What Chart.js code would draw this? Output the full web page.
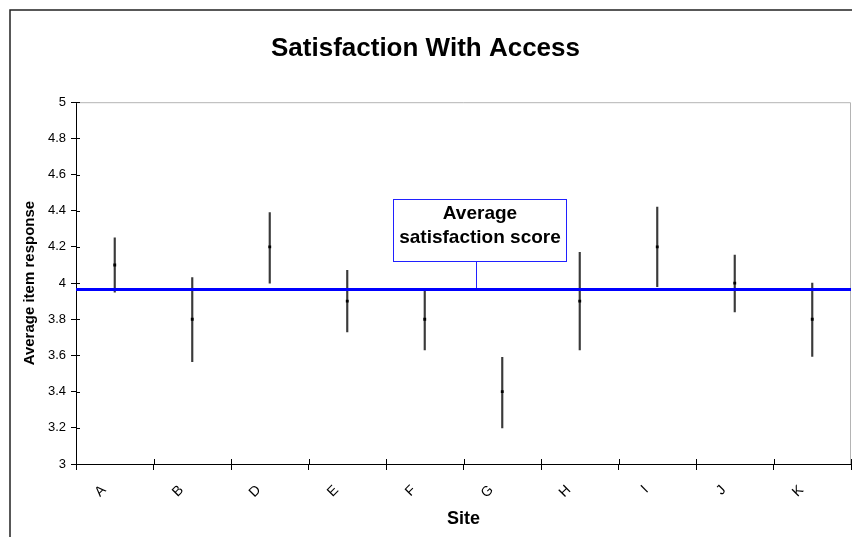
<!DOCTYPE html>
<html><head><meta charset="utf-8">
<script src="https://cdn.jsdelivr.net/npm/chart.js@4/dist/chart.umd.min.js"></script>
<style>html,body{margin:0;padding:0;background:#fff;}canvas{display:block;}</style>
</head><body>
<canvas id="c" width="852" height="537"></canvas>
<script>
const sites = ['A','B','D','E','F','G','H','I','J','K'];
const meanScores  = [4.10, 3.80, 4.20, 3.90, 3.80, 3.40, 3.90, 4.20, 4.00, 3.80];
const lowerBounds = [3.95, 3.565, 4.00, 3.73, 3.63, 3.20, 3.63, 3.98, 3.84, 3.595];
const upperBounds = [4.25, 4.03, 4.39, 4.07, 3.955, 3.59, 4.17, 4.42, 4.155, 4.00];
const overallAverage = 3.964;
const yTickLabels = ['3','3.2','3.4','3.6','3.8','4','4.2','4.4','4.6','4.8','5'];
const calloutLines = ['Average','satisfaction score'];

const FONT = 'Arial, "Liberation Sans", sans-serif';

const decorPlugin = {
  id: 'decor',
  beforeDraw(chart) {
    const ctx = chart.ctx;
    ctx.save();
    ctx.fillStyle = '#fff';
    ctx.fillRect(0, 0, chart.width, chart.height);
    ctx.strokeStyle = '#222';
    ctx.lineWidth = 1.5;
    ctx.beginPath();
    ctx.moveTo(10, chart.height + 2);
    ctx.lineTo(10, 10);
    ctx.lineTo(chart.width + 2, 10);
    ctx.stroke();
    ctx.restore();
  },
  beforeDatasetsDraw(chart) {
    const ctx = chart.ctx, a = chart.chartArea;
    ctx.save();
    ctx.strokeStyle = '#b4b4b4';
    ctx.lineWidth = 1;
    ctx.beginPath();
    ctx.moveTo(a.left, a.top + 0.5);
    ctx.lineTo(a.right - 0.5, a.top + 0.5);
    ctx.lineTo(a.right - 0.5, a.bottom);
    ctx.stroke();
    const xs = chart.scales.x, ys = chart.scales.y;
    ctx.strokeStyle = '#000';
    ctx.beginPath();
    ys.ticks.forEach(t => {
      const y = Math.round(ys.getPixelForValue(t.value)) + 0.5;
      ctx.moveTo(a.left, y); ctx.lineTo(a.left + 4, y);
    });
    const cw = xs.width / sites.length;
    for (let i = 0; i <= sites.length; i++) {
      const x = Math.round(xs.getPixelForValue(0) - cw / 2 + i * cw) + 0.5;
      ctx.moveTo(x, a.bottom); ctx.lineTo(x, a.bottom - 5);
    }
    ctx.stroke();
    ctx.restore();
  },
  afterDatasetsDraw(chart) {
    const ctx = chart.ctx, a = chart.chartArea;
    const ys = chart.scales.y;
    const yAvg = ys.getPixelForValue(overallAverage);
    ctx.save();
    ctx.strokeStyle = '#2020ff';
    ctx.lineWidth = 1;
    ctx.beginPath();
    ctx.moveTo(476.5, 262);
    ctx.lineTo(476.5, yAvg);
    ctx.stroke();
    ctx.strokeStyle = '#0000ff';
    ctx.lineWidth = 3;
    ctx.beginPath();
    ctx.moveTo(a.left, yAvg);
    ctx.lineTo(a.right, yAvg);
    ctx.stroke();
    ctx.fillStyle = '#fff';
    ctx.fillRect(393.5, 199.5, 173, 62);
    ctx.strokeStyle = '#2020ff';
    ctx.lineWidth = 1;
    ctx.strokeRect(393.5, 199.5, 173, 62);
    ctx.fillStyle = '#000';
    ctx.font = 'bold 19px ' + FONT;
    ctx.textAlign = 'center';
    ctx.textBaseline = 'alphabetic';
    ctx.fillText(calloutLines[0], 480, 219);
    ctx.fillText(calloutLines[1], 480, 243);
    ctx.restore();
  }
};

new Chart(document.getElementById('c'), {
  type: 'bar',
  data: {
    labels: sites,
    datasets: [
      {
        type: 'line',
        label: 'Mean',
        data: meanScores,
        showLine: false,
        pointStyle: 'rect',
        pointRadius: 2,
        pointBackgroundColor: '#000',
        pointBorderColor: '#000',
        pointBorderWidth: 0,
        order: 0
      },
      {
        type: 'bar',
        label: 'Range',
        data: sites.map((s, i) => [lowerBounds[i], upperBounds[i]]),
        backgroundColor: '#3a3a3a',
        borderWidth: 0,
        barThickness: 1.5,
        order: 1
      }
    ]
  },
  options: {
    responsive: false,
    animation: false,
    devicePixelRatio: 1,
    layout: { autoPadding: false, padding: { left: 0, right: 1, top: 0, bottom: 0 } },
    plugins: {
      legend: { display: false },
      tooltip: { enabled: false },
      title: {
        display: true,
        text: 'Satisfaction With Access',
        color: '#000',
        font: { family: FONT, size: 26, weight: 'bold' },
        padding: { top: 33, bottom: 38 }
      }
    },
    scales: {
      x: {
        type: 'category',
        offset: true,
        grid: { display: true, drawOnChartArea: false, offset: true, tickLength: 6, color: '#000', lineWidth: 1 },
        border: { color: '#000', width: 1 },
        ticks: {
          color: '#000',
          font: { family: FONT, size: 14 },
          minRotation: 45,
          maxRotation: 45,
          labelOffset: -11,
          padding: 12
        },
        title: {
          display: true,
          text: 'Site',
          color: '#000',
          font: { family: FONT, size: 18, weight: 'bold' },
          padding: { top: 0, bottom: 7 }
        },
        afterFit: s => { s.height = 73; }
      },
      y: {
        min: 3,
        max: 5,
        grid: { display: true, drawOnChartArea: false, tickLength: 5, color: '#000', lineWidth: 1 },
        border: { color: '#000', width: 1 },
        ticks: {
          stepSize: 0.2,
          color: '#000',
          font: { family: FONT, size: 13 },
          padding: 5,
          callback: (v, i) => yTickLabels[i]
        },
        title: {
          display: true,
          text: 'Average item response',
          color: '#000',
          font: { family: FONT, size: 15, weight: 'bold' },
          padding: { top: 21, bottom: 0 }
        },
        afterFit: s => { s.width = 76; }
      }
    }
  },
  plugins: [decorPlugin]
});
</script>
</body></html>
